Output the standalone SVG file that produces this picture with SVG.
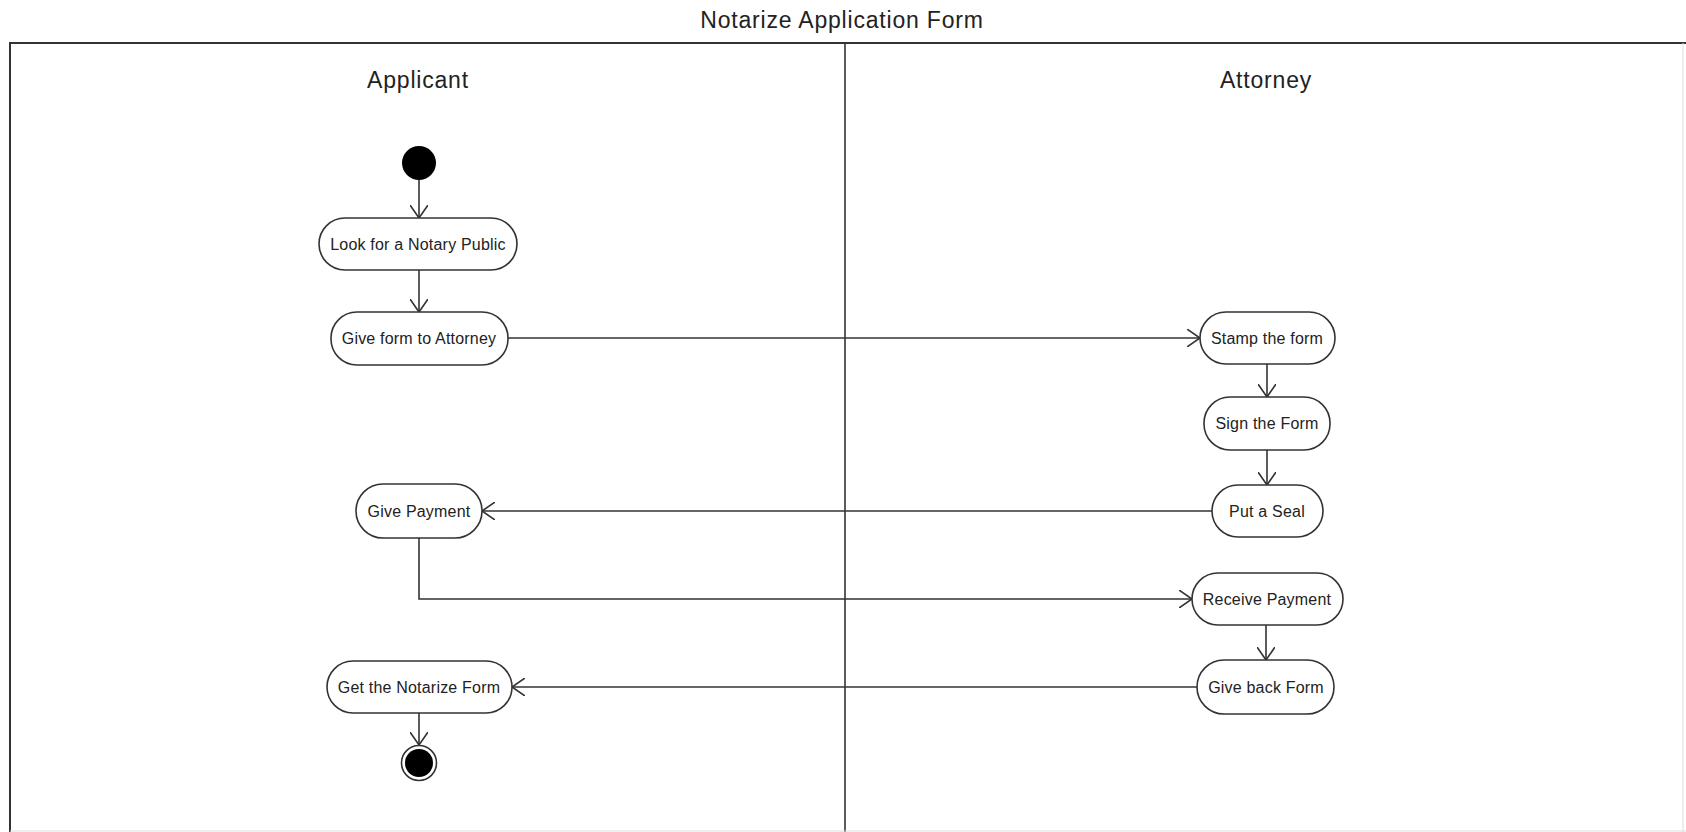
<svg xmlns="http://www.w3.org/2000/svg" width="1686" height="832" viewBox="0 0 1686 832">
<style>
text{font-family:"Liberation Sans",Arial,sans-serif;fill:#222;text-anchor:middle}
.t{font-size:23px;letter-spacing:0.8px}
.lane{font-size:23px;letter-spacing:0.8px}
.n{font-size:16px;letter-spacing:0.2px}
.box{fill:#fff;stroke:#333;stroke-width:1.6}
.c{fill:none;stroke:#333;stroke-width:1.6}
.frame{fill:none;stroke:#333;stroke-width:2}
</style>
<defs>
<marker id="a" viewBox="0 0 14 18" refX="13" refY="9" markerWidth="14" markerHeight="18" markerUnits="userSpaceOnUse" orient="auto">
<path d="M0,0 L13,9 L0,18" fill="none" stroke="#333" stroke-width="1.6"/>
</marker>
</defs>
<rect width="1686" height="832" fill="#fff"/>
<text class="t" x="842" y="28">Notarize Application Form</text>
<g id="frame">
<path class="frame" d="M10,832 V43 H1686"/>
<line x1="845" y1="43" x2="845" y2="832" stroke="#333" stroke-width="1.6"/>
<line x1="1683" y1="43" x2="1683" y2="832" stroke="#ddd" stroke-width="1"/>
<line x1="10" y1="831" x2="1686" y2="831" stroke="#ddd" stroke-width="1"/>
</g>
<text class="lane" x="418" y="88">Applicant</text>
<text class="lane" x="1266" y="88">Attorney</text>
<g id="connectors">
<line class="c" x1="419" y1="180" x2="419" y2="218" marker-end="url(#a)"/>
<line class="c" x1="419" y1="270" x2="419" y2="312" marker-end="url(#a)"/>
<line class="c" x1="508" y1="338" x2="1200" y2="338" marker-end="url(#a)"/>
<line class="c" x1="1267" y1="364" x2="1267" y2="397" marker-end="url(#a)"/>
<line class="c" x1="1267" y1="450" x2="1267" y2="485" marker-end="url(#a)"/>
<line class="c" x1="1212" y1="511" x2="482" y2="511" marker-end="url(#a)"/>
<polyline class="c" points="419,538 419,599 1192,599" marker-end="url(#a)"/>
<line class="c" x1="1266" y1="625" x2="1266" y2="660" marker-end="url(#a)"/>
<line class="c" x1="1197" y1="687" x2="512" y2="687" marker-end="url(#a)"/>
<line class="c" x1="419" y1="713" x2="419" y2="745" marker-end="url(#a)"/>
</g>
<g id="start"><circle cx="419" cy="163" r="17" fill="#000"/></g>
<g id="look"><rect class="box" x="319" y="218" width="198" height="52" rx="26"/><text class="n" x="418" y="250">Look for a Notary Public</text></g>
<g id="giveform"><rect class="box" x="331" y="312" width="177" height="53" rx="26"/><text class="n" x="419" y="344">Give form to Attorney</text></g>
<g id="stamp"><rect class="box" x="1200" y="312" width="135" height="52" rx="26"/><text class="n" x="1267" y="344">Stamp the form</text></g>
<g id="sign"><rect class="box" x="1204" y="397" width="126" height="53" rx="26"/><text class="n" x="1267" y="429">Sign the Form</text></g>
<g id="seal"><rect class="box" x="1212" y="485" width="111" height="52" rx="26"/><text class="n" x="1267" y="517">Put a Seal</text></g>
<g id="givepay"><rect class="box" x="356" y="484" width="126" height="54" rx="27"/><text class="n" x="419" y="517">Give Payment</text></g>
<g id="receive"><rect class="box" x="1192" y="573" width="151" height="52" rx="26"/><text class="n" x="1267" y="605">Receive Payment</text></g>
<g id="giveback"><rect class="box" x="1197" y="660" width="137" height="54" rx="27"/><text class="n" x="1266" y="693">Give back Form</text></g>
<g id="getform"><rect class="box" x="327" y="661" width="185" height="52" rx="26"/><text class="n" x="419" y="693">Get the Notarize Form</text></g>
<g id="end"><circle cx="419" cy="763" r="17.5" fill="#fff" stroke="#333" stroke-width="1.6"/><circle cx="419" cy="763" r="14" fill="#000"/></g>
</svg>
